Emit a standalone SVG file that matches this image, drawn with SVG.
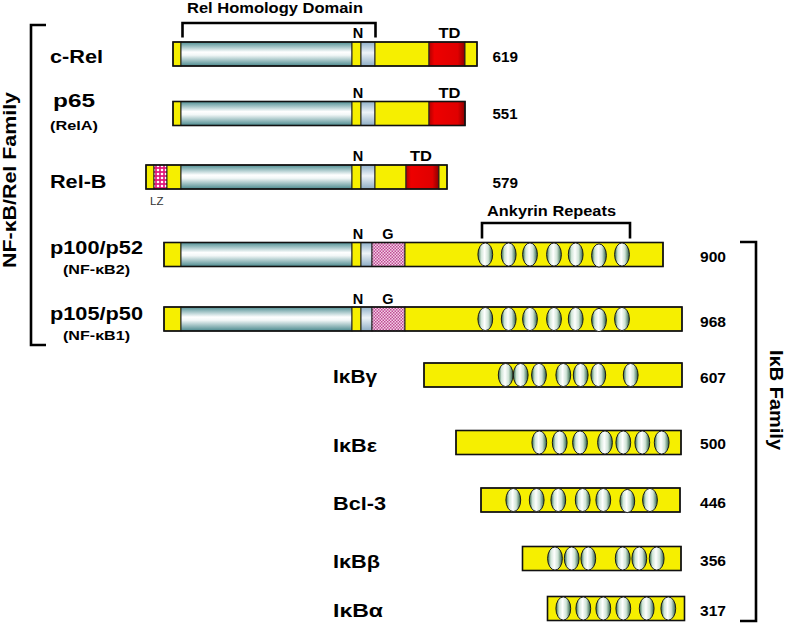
<svg xmlns="http://www.w3.org/2000/svg" xmlns:xlink="http://www.w3.org/1999/xlink" width="790" height="624" viewBox="0 0 790 624">
<style>
.y{fill:#f6ef00;stroke:#222;stroke-width:1}
.c{fill:url(#gC);stroke:#222;stroke-width:1}
.l{fill:url(#gL);stroke:#222;stroke-width:1}
.r{fill:url(#gR);stroke:#222;stroke-width:1}
.g{fill:url(#pG);stroke:#222;stroke-width:1}
.z{fill:url(#pZ);stroke:#222;stroke-width:1}
.o{fill:none;stroke:#111;stroke-width:1.6}
.rep{fill:url(#gE);stroke:#1a1a1a;stroke-width:1}
.br{fill:none;stroke:#000;stroke-width:2.6}
text{font-family:"Liberation Sans",Arial,sans-serif;font-weight:bold;fill:#000}
.lab{font-size:17.5px}
.sub{font-size:12.5px}
.num{font-size:15.5px}
.dom{font-size:14.5px}
.lz{font-size:11.5px;font-weight:normal;fill:#333}
.fam{font-size:18.5px}
</style>
<defs>
<linearGradient id="gC" x1="0" y1="0" x2="0" y2="1">
<stop offset="0" stop-color="#4f8f93"/><stop offset="0.42" stop-color="#ffffff"/><stop offset="0.55" stop-color="#f2f7f7"/><stop offset="1" stop-color="#4a898d"/>
</linearGradient>
<linearGradient id="gL" x1="0" y1="0" x2="0" y2="1">
<stop offset="0" stop-color="#8fb0c8"/><stop offset="0.45" stop-color="#eef3f8"/><stop offset="1" stop-color="#8cacc4"/>
</linearGradient>
<linearGradient id="gR" x1="0" y1="0" x2="1" y2="0">
<stop offset="0" stop-color="#b00000"/><stop offset="0.15" stop-color="#ee0000"/><stop offset="0.8" stop-color="#e00000"/><stop offset="1" stop-color="#8a0000"/>
</linearGradient>
<linearGradient id="gE" x1="0" y1="0" x2="1" y2="0">
<stop offset="0" stop-color="#2f6a48"/><stop offset="0.22" stop-color="#d2e6d9"/><stop offset="0.45" stop-color="#ffffff"/><stop offset="0.7" stop-color="#cfe3d6"/><stop offset="1" stop-color="#2a6042"/>
</linearGradient>
<pattern id="pG" width="3" height="3" patternUnits="userSpaceOnUse">
<rect width="3" height="3" fill="#f2d2e6"/><rect width="1.5" height="1.5" fill="#c04a95"/><rect x="1.5" y="1.5" width="1.5" height="1.5" fill="#c04a95"/>
</pattern>
<pattern id="pZ" width="4" height="4" patternUnits="userSpaceOnUse">
<rect width="4" height="4" fill="#e0187a"/><circle cx="2" cy="2" r="1.3" fill="#ffffff"/>
</pattern>
<ellipse id="rep" rx="7.4" ry="11.6" class="rep"/>
</defs>

<g id="brackets">
<path class="br" d="M46,25 H31 V345 H46"/>
<path class="br" d="M740,242 H756 V621 H740"/>
<path class="br" d="M182.5,37.5 V23 H375.5 V37.5"/>
<path class="br" d="M482,238.5 V223 H630 V238.5"/>
</g>

<g id="family-labels">
<text class="fam" transform="translate(15.5,180) rotate(-90)" text-anchor="middle" textLength="176" lengthAdjust="spacingAndGlyphs">NF-κB/Rel Family</text>
<text class="fam" transform="translate(770,400) rotate(90)" text-anchor="middle" textLength="100" lengthAdjust="spacingAndGlyphs">IκB Family</text>
<text class="dom" x="187" y="12.5" textLength="176" lengthAdjust="spacingAndGlyphs">Rel Homology Domain</text>
<text class="dom" x="487" y="215.5" textLength="129" lengthAdjust="spacingAndGlyphs">Ankyrin Repeats</text>
</g>

<g id="c-Rel">
<text class="lab" x="50" y="63" textLength="53" lengthAdjust="spacingAndGlyphs">c-Rel</text>
<rect class="y" x="173" y="42" width="8" height="24"/>
<rect class="c" x="181" y="42" width="171" height="24"/>
<rect class="y" x="352" y="42" width="9" height="24"/>
<rect class="l" x="361" y="42" width="14" height="24"/>
<rect class="y" x="375" y="42" width="54" height="24"/>
<rect class="r" x="429" y="42" width="36" height="24"/>
<rect class="y" x="465" y="42" width="12" height="24"/>
<rect class="o" x="173" y="42" width="304" height="24"/>
<text class="dom" x="358" y="37.5" text-anchor="middle">N</text>
<text class="dom" x="449.5" y="37.5" text-anchor="middle" textLength="22" lengthAdjust="spacingAndGlyphs">TD</text>
<text class="num" x="492.5" y="61.5" textLength="25.5" lengthAdjust="spacingAndGlyphs">619</text>
</g>

<g id="p65">
<text class="lab" x="53" y="107" textLength="42" lengthAdjust="spacingAndGlyphs">p65</text>
<text class="sub" x="50" y="130" textLength="48" lengthAdjust="spacingAndGlyphs">(RelA)</text>
<rect class="y" x="173" y="101.5" width="8" height="24"/>
<rect class="c" x="181" y="101.5" width="171" height="24"/>
<rect class="y" x="352" y="101.5" width="9" height="24"/>
<rect class="l" x="361" y="101.5" width="14" height="24"/>
<rect class="y" x="375" y="101.5" width="54" height="24"/>
<rect class="r" x="429" y="101.5" width="36" height="24"/>
<rect class="o" x="173" y="101.5" width="292" height="24"/>
<text class="dom" x="358" y="98" text-anchor="middle">N</text>
<text class="dom" x="449.5" y="98" text-anchor="middle" textLength="22" lengthAdjust="spacingAndGlyphs">TD</text>
<text class="num" x="492.5" y="118.5" textLength="25" lengthAdjust="spacingAndGlyphs">551</text>
</g>

<g id="Rel-B">
<text class="lab" x="50" y="187.5" textLength="56.5" lengthAdjust="spacingAndGlyphs">Rel-B</text>
<rect class="y" x="146" y="165" width="8" height="24"/>
<rect class="z" x="154" y="165" width="13" height="24"/>
<rect class="y" x="167" y="165" width="14" height="24"/>
<rect class="c" x="181" y="165" width="171" height="24"/>
<rect class="y" x="352" y="165" width="9" height="24"/>
<rect class="l" x="361" y="165" width="14" height="24"/>
<rect class="y" x="375" y="165" width="31" height="24"/>
<rect class="r" x="406" y="165" width="33" height="24"/>
<rect class="y" x="439" y="165" width="8" height="24"/>
<rect class="o" x="146" y="165" width="301" height="24"/>
<text class="lz" x="150" y="204.5">LZ</text>
<text class="dom" x="358" y="160.5" text-anchor="middle">N</text>
<text class="dom" x="421" y="160.5" text-anchor="middle" textLength="22" lengthAdjust="spacingAndGlyphs">TD</text>
<text class="num" x="492.5" y="187.5" textLength="25.5" lengthAdjust="spacingAndGlyphs">579</text>
</g>

<g id="p100">
<text class="lab" x="50" y="253.5" textLength="93" lengthAdjust="spacingAndGlyphs">p100/p52</text>
<text class="sub" x="63" y="273.5" textLength="67" lengthAdjust="spacingAndGlyphs">(NF-κB2)</text>
<rect class="y" x="164" y="242.5" width="17" height="24"/>
<rect class="c" x="181" y="242.5" width="171" height="24"/>
<rect class="y" x="352" y="242.5" width="9" height="24"/>
<rect class="l" x="361" y="242.5" width="11" height="24"/>
<rect class="g" x="372" y="242.5" width="33" height="24"/>
<rect class="y" x="405" y="242.5" width="258" height="24"/>
<rect class="o" x="164" y="242.5" width="499" height="24"/>
<use xlink:href="#rep" x="485.3" y="254.5"/>
<use xlink:href="#rep" x="508.7" y="254.5"/>
<use xlink:href="#rep" x="530" y="254.5"/>
<use xlink:href="#rep" x="554" y="254.5"/>
<use xlink:href="#rep" x="575.7" y="254.5"/>
<use xlink:href="#rep" x="599" y="255.5"/>
<use xlink:href="#rep" x="622" y="254.5"/>
<text class="dom" x="358" y="239" text-anchor="middle">N</text>
<text class="dom" x="388" y="239" text-anchor="middle">G</text>
<text class="num" x="700" y="261.5" textLength="26" lengthAdjust="spacingAndGlyphs">900</text>
</g>

<g id="p105">
<text class="lab" x="50" y="320" textLength="93" lengthAdjust="spacingAndGlyphs">p105/p50</text>
<text class="sub" x="63" y="340" textLength="67" lengthAdjust="spacingAndGlyphs">(NF-κB1)</text>
<rect class="y" x="164" y="307" width="17" height="24"/>
<rect class="c" x="181" y="307" width="171" height="24"/>
<rect class="y" x="352" y="307" width="9" height="24"/>
<rect class="l" x="361" y="307" width="11" height="24"/>
<rect class="g" x="372" y="307" width="33" height="24"/>
<rect class="y" x="405" y="307" width="277" height="24"/>
<rect class="o" x="164" y="307" width="518" height="24"/>
<use xlink:href="#rep" x="485.3" y="319"/>
<use xlink:href="#rep" x="508.7" y="319"/>
<use xlink:href="#rep" x="530" y="319"/>
<use xlink:href="#rep" x="554" y="319"/>
<use xlink:href="#rep" x="575.7" y="319"/>
<use xlink:href="#rep" x="599" y="320"/>
<use xlink:href="#rep" x="622" y="319"/>
<text class="dom" x="358" y="303.5" text-anchor="middle">N</text>
<text class="dom" x="388" y="303.5" text-anchor="middle">G</text>
<text class="num" x="700" y="326.5" textLength="26" lengthAdjust="spacingAndGlyphs">968</text>
</g>

<g id="IkBg">
<text class="lab" x="333" y="383" textLength="44" lengthAdjust="spacingAndGlyphs">IκBγ</text>
<rect class="y" x="424" y="363" width="258" height="24"/>
<rect class="o" x="424" y="363" width="258" height="24"/>
<use xlink:href="#rep" x="505.7" y="375"/>
<use xlink:href="#rep" x="520.7" y="375"/>
<use xlink:href="#rep" x="539" y="375"/>
<use xlink:href="#rep" x="563.3" y="375"/>
<use xlink:href="#rep" x="580.7" y="375"/>
<use xlink:href="#rep" x="598.3" y="375"/>
<use xlink:href="#rep" x="630.7" y="375"/>
<text class="num" x="700" y="382.5" textLength="26" lengthAdjust="spacingAndGlyphs">607</text>
</g>

<g id="IkBe">
<text class="lab" x="333" y="451.5" textLength="44" lengthAdjust="spacingAndGlyphs">IκBε</text>
<rect class="y" x="456" y="430.5" width="225" height="24"/>
<rect class="o" x="456" y="430.5" width="225" height="24"/>
<use xlink:href="#rep" x="539.3" y="442.5"/>
<use xlink:href="#rep" x="559.7" y="442.5"/>
<use xlink:href="#rep" x="580" y="442.5"/>
<use xlink:href="#rep" x="605" y="442.5"/>
<use xlink:href="#rep" x="623.3" y="442.5"/>
<use xlink:href="#rep" x="642.3" y="442.5"/>
<use xlink:href="#rep" x="661.7" y="442.5"/>
<text class="num" x="700" y="449" textLength="26" lengthAdjust="spacingAndGlyphs">500</text>
</g>

<g id="Bcl-3">
<text class="lab" x="333" y="509.5" textLength="53" lengthAdjust="spacingAndGlyphs">Bcl-3</text>
<rect class="y" x="481" y="488" width="199" height="24"/>
<rect class="o" x="481" y="488" width="199" height="24"/>
<use xlink:href="#rep" x="513.3" y="500"/>
<use xlink:href="#rep" x="536.7" y="500"/>
<use xlink:href="#rep" x="558.3" y="500"/>
<use xlink:href="#rep" x="582.7" y="500"/>
<use xlink:href="#rep" x="603.3" y="500"/>
<use xlink:href="#rep" x="627.3" y="501"/>
<use xlink:href="#rep" x="650" y="500"/>
<text class="num" x="700" y="507.5" textLength="26" lengthAdjust="spacingAndGlyphs">446</text>
</g>

<g id="IkBb">
<text class="lab" x="333" y="567.5" textLength="47" lengthAdjust="spacingAndGlyphs">IκBβ</text>
<rect class="y" x="522.5" y="546.5" width="158.5" height="24"/>
<rect class="o" x="522.5" y="546.5" width="158.5" height="24"/>
<use xlink:href="#rep" x="555" y="558.5"/>
<use xlink:href="#rep" x="571.7" y="558.5"/>
<use xlink:href="#rep" x="588.3" y="558.5"/>
<use xlink:href="#rep" x="622.7" y="558.5"/>
<use xlink:href="#rep" x="639.3" y="558.5"/>
<use xlink:href="#rep" x="656.7" y="558.5"/>
<text class="num" x="700" y="566" textLength="26" lengthAdjust="spacingAndGlyphs">356</text>
</g>

<g id="IkBa">
<text class="lab" x="333" y="617" textLength="50" lengthAdjust="spacingAndGlyphs">IκBα</text>
<rect class="y" x="547.5" y="596.5" width="137" height="24"/>
<rect class="o" x="547.5" y="596.5" width="137" height="24"/>
<use xlink:href="#rep" x="563.3" y="608.5"/>
<use xlink:href="#rep" x="583.3" y="608.5"/>
<use xlink:href="#rep" x="603.3" y="608.5"/>
<use xlink:href="#rep" x="623.3" y="608.5"/>
<use xlink:href="#rep" x="646.7" y="608.5"/>
<use xlink:href="#rep" x="668.3" y="608.5"/>
<text class="num" x="700" y="616" textLength="26" lengthAdjust="spacingAndGlyphs">317</text>
</g>
</svg>
